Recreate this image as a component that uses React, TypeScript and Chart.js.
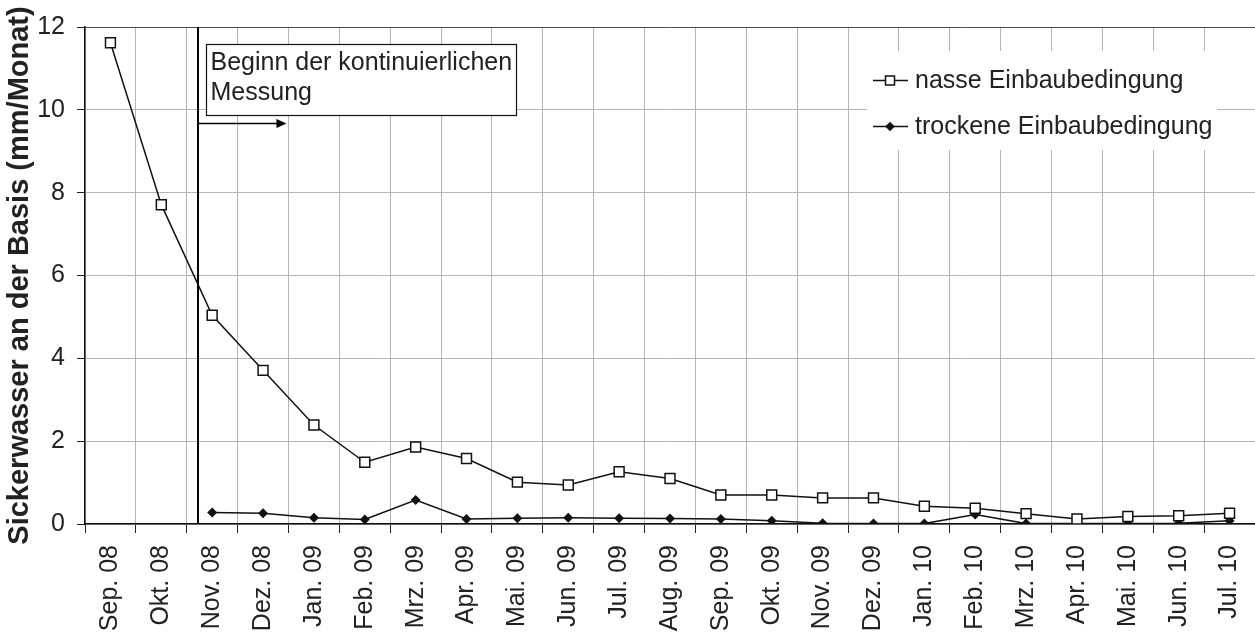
import React, { useEffect, useRef } from 'react';
import { Chart, registerables } from 'chart.js';

Chart.register(...registerables);

const FONT = '"Liberation Sans", Arial, Helvetica, sans-serif';

const months: string[] = [
  'Sep. 08', 'Okt. 08', 'Nov. 08', 'Dez. 08', 'Jan. 09', 'Feb. 09', 'Mrz. 09', 'Apr. 09',
  'Mai. 09', 'Jun. 09', 'Jul. 09', 'Aug. 09', 'Sep. 09', 'Okt. 09', 'Nov. 09', 'Dez. 09',
  'Jan. 10', 'Feb. 10', 'Mrz. 10', 'Apr. 10', 'Mai. 10', 'Jun. 10', 'Jul. 10',
];

const nasse: number[] = [
  11.62, 7.71, 5.04, 3.71, 2.39, 1.49, 1.86, 1.58, 1.01, 0.94, 1.26, 1.1,
  0.7, 0.7, 0.63, 0.63, 0.43, 0.38, 0.25, 0.12, 0.18, 0.2, 0.26,
];

const trockene: (number | null)[] = [
  null, null, 0.28, 0.26, 0.15, 0.11, 0.58, 0.12, 0.14, 0.15, 0.14, 0.13,
  0.12, 0.08, 0.02, 0.01, 0.01, 0.23, 0.01, 0.01, 0.01, 0.02, 0.08,
];

const seriesNames: string[] = ['nasse Einbaubedingung', 'trockene Einbaubedingung'];
const noteLines: string[] = ['Beginn der kontinuierlichen', 'Messung'];
const yTitle = 'Sickerwasser an der Basis (mm/Monat)';
const yMin = 0;
const yMax = 12;
const yStep = 2;

// annotation placement (category index / value units)
const startIndex = 1.73;
const arrowEndIndex = 3.46;
const arrowValue = 9.68;
const boxIndexRange: [number, number] = [1.87, 7.97];
const boxValueRange: [number, number] = [11.6, 9.88];

const TEXT = '#222';

function drawSquare(ctx: CanvasRenderingContext2D, x: number, y: number) {
  const s = 4.5;
  ctx.fillStyle = '#fff';
  ctx.strokeStyle = '#111';
  ctx.lineWidth = 1.5;
  ctx.fillRect(x - s, y - s, 2 * s, 2 * s);
  ctx.strokeRect(x - s, y - s, 2 * s, 2 * s);
}

function drawDiamond(ctx: CanvasRenderingContext2D, x: number, y: number) {
  const r = 4.8;
  ctx.fillStyle = '#111';
  ctx.beginPath();
  ctx.moveTo(x, y - r);
  ctx.lineTo(x + r, y);
  ctx.lineTo(x, y + r);
  ctx.lineTo(x - r, y);
  ctx.closePath();
  ctx.fill();
}

const annotationPlugin = {
  id: 'annotations',
  beforeDatasetsDraw(chart: any) {
    const { ctx, scales } = chart;
    const x = scales.x;
    const y = scales.y;
    ctx.save();
    // vertical start line
    const lx = Math.round(x.getPixelForValue(startIndex));
    ctx.strokeStyle = '#000';
    ctx.lineWidth = 2;
    ctx.beginPath();
    ctx.moveTo(lx, y.getPixelForValue(yMax));
    ctx.lineTo(lx, y.getPixelForValue(yMin));
    ctx.stroke();
    // arrow
    const ay = Math.round(y.getPixelForValue(arrowValue)) + 0.5;
    const ax2 = x.getPixelForValue(arrowEndIndex);
    ctx.lineWidth = 1.5;
    ctx.beginPath();
    ctx.moveTo(lx, ay);
    ctx.lineTo(ax2 - 8, ay);
    ctx.stroke();
    ctx.fillStyle = '#000';
    ctx.beginPath();
    ctx.moveTo(ax2, ay);
    ctx.lineTo(ax2 - 10, ay - 4.5);
    ctx.lineTo(ax2 - 10, ay + 4.5);
    ctx.closePath();
    ctx.fill();
    // text box
    const bx1 = Math.round(x.getPixelForValue(boxIndexRange[0])) + 0.5;
    const bx2 = Math.round(x.getPixelForValue(boxIndexRange[1])) + 0.5;
    const by1 = Math.round(y.getPixelForValue(boxValueRange[0])) + 0.5;
    const by2 = Math.round(y.getPixelForValue(boxValueRange[1])) + 0.5;
    ctx.fillStyle = '#fff';
    ctx.fillRect(bx1, by1, bx2 - bx1, by2 - by1);
    ctx.strokeStyle = '#111';
    ctx.lineWidth = 1.2;
    ctx.strokeRect(bx1, by1, bx2 - bx1, by2 - by1);
    ctx.fillStyle = TEXT;
    ctx.font = `25px ${FONT}`;
    ctx.textAlign = 'left';
    ctx.textBaseline = 'alphabetic';
    noteLines.forEach((line, i) => {
      ctx.fillText(line, bx1 + 4, by1 + 25 + i * 30);
    });
    ctx.restore();
  },
  afterDraw(chart: any) {
    const { ctx, chartArea } = chart;
    ctx.save();
    const left = chartArea.right - 388;
    const top = chartArea.top + 24;
    ctx.fillStyle = '#fff';
    ctx.fillRect(left, top, 350, 99);
    ctx.font = `25px ${FONT}`;
    ctx.textAlign = 'left';
    ctx.textBaseline = 'middle';
    seriesNames.forEach((name, i) => {
      const cy = top + 29 + i * 46;
      ctx.strokeStyle = '#111';
      ctx.lineWidth = 1.5;
      ctx.beginPath();
      ctx.moveTo(left + 6, cy + 0.5);
      ctx.lineTo(left + 41, cy + 0.5);
      ctx.stroke();
      if (i === 0) drawSquare(ctx, left + 23, cy + 0.5);
      else drawDiamond(ctx, left + 23, cy + 0.5);
      ctx.fillStyle = TEXT;
      ctx.fillText(name, left + 48, cy + 1);
    });
    ctx.restore();
  },
};

export default function App() {
  const canvasRef = useRef<HTMLCanvasElement | null>(null);

  useEffect(() => {
    const canvas = canvasRef.current;
    if (!canvas) return;
    Chart.defaults.font.family = FONT;
    const chart = new Chart(canvas, {
      type: 'line',
      data: {
        labels: months,
        datasets: [
          {
            label: seriesNames[0],
            data: nasse,
            borderColor: '#111',
            borderWidth: 1.5,
            pointStyle: 'rect',
            pointRadius: 7,
            pointBackgroundColor: '#fff',
            pointBorderColor: '#111',
            pointBorderWidth: 1.5,
            tension: 0,
          },
          {
            label: seriesNames[1],
            data: trockene,
            borderColor: '#111',
            borderWidth: 1.5,
            pointStyle: 'rectRot',
            pointRadius: 5,
            pointBackgroundColor: '#111',
            pointBorderColor: '#111',
            pointBorderWidth: 0,
            tension: 0,
          },
        ],
      },
      options: {
        responsive: false,
        animation: false,
        layout: { autoPadding: false, padding: { top: 19, right: 0, left: 0, bottom: 0 } },
        plugins: {
          legend: { display: false },
          tooltip: { enabled: false },
        },
        scales: {
          x: {
            type: 'category',
            offset: true,
            grid: {
              offset: true,
              color: '#b5b5b5',
              lineWidth: 1,
              tickColor: '#222',
              tickLength: 9,
            },
            border: { color: '#111', width: 1.5 },
            ticks: {
              autoSkip: false,
              minRotation: 90,
              maxRotation: 90,
              padding: 12,
              color: TEXT,
              font: { size: 25, family: FONT },
            },
            afterFit: (s: any) => {
              s.height = 108;
              s.paddingLeft = 0;
              s.paddingRight = 0;
            },
          },
          y: {
            min: yMin,
            max: yMax,
            grid: {
              color: (c: any) => (c.tick && c.tick.value === yMax ? '#4d4d4d' : '#b5b5b5'),
              lineWidth: 1,
              tickColor: '#222',
              tickLength: 8,
            },
            border: { color: '#111', width: 1.5 },
            ticks: {
              stepSize: yStep,
              padding: 12,
              color: TEXT,
              font: { size: 25, family: FONT },
            },
            title: {
              display: true,
              text: yTitle,
              color: TEXT,
              font: { size: 29, weight: 'bold', family: FONT },
              padding: { top: 3, bottom: 3 },
            },
            afterFit: (s: any) => {
              s.width = 85;
            },
          },
        },
      },
      plugins: [annotationPlugin],
    } as any);
    return () => chart.destroy();
  }, []);

  return (
    <div style={{ position: 'absolute', left: 0, top: 0, width: 1255, height: 632, background: '#fff' }}>
      <canvas ref={canvasRef} width={1255} height={632} style={{ display: 'block' }} />
    </div>
  );
}
